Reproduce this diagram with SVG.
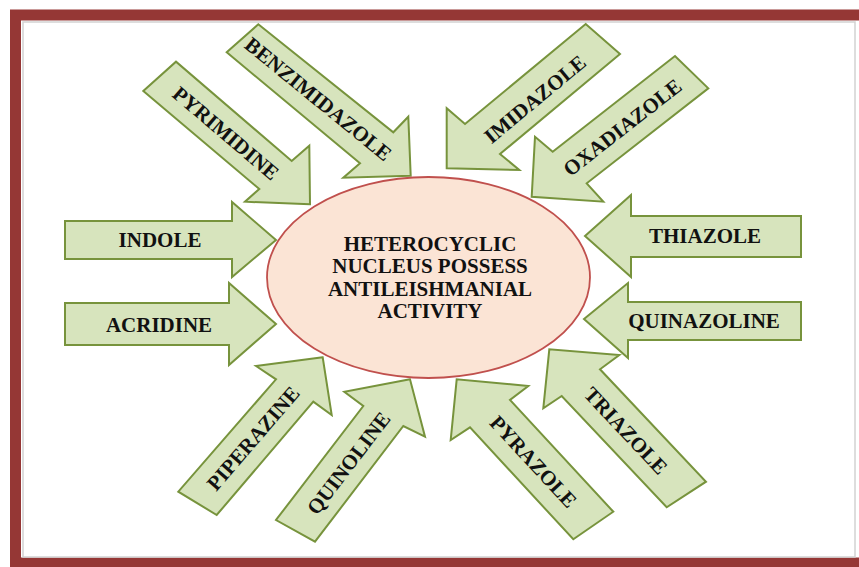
<svg xmlns="http://www.w3.org/2000/svg" width="859" height="567" viewBox="0 0 859 567">
  <style>
    .arrow { fill: #D7E4BD; stroke: #77933C; stroke-width: 2; stroke-linejoin: miter; }
    .lbl { font-family: "Liberation Serif", "Times New Roman", serif; font-weight: bold; font-size: 21px; fill: #111; text-anchor: middle; }
  </style>
  <rect x="0" y="0" width="859" height="567" fill="#ffffff"/>
  <rect id="frame" x="15.5" y="15" width="870" height="548" fill="none" stroke="#953735" stroke-width="11"/>
  <rect id="panel" x="23" y="22" width="832" height="535" fill="#ffffff" stroke="#d2d2d2" stroke-width="1.5"/>

  <g id="connectors">
    <g id="arrow-indole">
      <polygon class="arrow" points="276,240 232,202 232,221 65,221 65,259 232,259 232,277"/>
      <text class="lbl" x="160" y="247">INDOLE</text>
    </g>
    <g id="arrow-acridine">
      <polygon class="arrow" points="276,324 229,283 229,303 65,303 65,345 229,345 229,365"/>
      <text class="lbl" x="159" y="332">ACRIDINE</text>
    </g>
    <g id="arrow-thiazole">
      <polygon class="arrow" points="585,236 631,195 631,216 801,216 801,257 631,257 631,277"/>
      <text class="lbl" x="705" y="243">THIAZOLE</text>
    </g>
    <g id="arrow-quinazoline">
      <polygon class="arrow" points="584,319 628,283 628,302 801,302 801,340 628,340 628,358"/>
      <text class="lbl" x="704" y="328">QUINAZOLINE</text>
    </g>
    <g id="arrow-pyrimidine">
      <polygon class="arrow" points="310,204.3 245,201.7 259.3,189 143.3,91 176,61.7 291.7,161 309.3,145.7"/>
      <text class="lbl" transform="translate(225.8,133.3) rotate(40.4)" x="0" y="7">PYRIMIDINE</text>
    </g>
    <g id="arrow-benzimidazole">
      <polygon class="arrow" points="410.7,175.7 343.3,177.7 360,163.3 226.7,52.3 258.3,24.3 393.3,132.3 408.3,116.7"/>
      <text class="lbl" transform="translate(318.3,99.2) rotate(39.2)" x="0" y="7">BENZIMIDAZOLE</text>
    </g>
    <g id="arrow-imidazole">
      <polygon class="arrow" points="446.7,168.3 446.7,108.3 465,124 585.7,24 620,54 500,154 519.3,170"/>
      <text class="lbl" transform="translate(535,99.2) rotate(-39.7)" x="0" y="7">IMIDAZOLE</text>
    </g>
    <g id="arrow-oxadiazole">
      <polygon class="arrow" points="531.7,196.7 535,136.7 552.7,151.7 675,56 708.3,88.3 586.7,183.3 603.3,201.7"/>
      <text class="lbl" transform="translate(622.5,127.5) rotate(-38)" x="0" y="7">OXADIAZOLE</text>
    </g>
    <g id="arrow-piperazine">
      <polygon class="arrow" points="322.7,357.3 256,366 276,379.3 178.3,491.7 216.7,515 313.3,401.7 331.7,415"/>
      <text class="lbl" transform="translate(253.3,438.3) rotate(-49.3)" x="0" y="7">PIPERAZINE</text>
    </g>
    <g id="arrow-quinoline">
      <polygon class="arrow" points="410,379.3 344.3,391.7 363.3,406 276,520 315,541.7 403.3,426 425,436.7"/>
      <text class="lbl" transform="translate(348.7,463.3) rotate(-52.6)" x="0" y="7">QUINOLINE</text>
    </g>
    <g id="arrow-pyrazole">
      <polygon class="arrow" points="456.7,379.3 450.7,440 470,427.3 573.3,539.3 613.3,511.7 510,400 528.3,386"/>
      <text class="lbl" transform="translate(533.3,461.7) rotate(47.2)" x="0" y="7">PYRAZOLE</text>
    </g>
    <g id="arrow-triazole">
      <polygon class="arrow" points="549.3,349.3 543.3,408.3 561.7,396 666.7,507.3 706,481.7 600,369.3 619.3,355"/>
      <text class="lbl" transform="translate(625.8,430.8) rotate(46.7)" x="0" y="7">TRIAZOLE</text>
    </g>
  </g>

  <g id="center-node">
    <ellipse cx="428.5" cy="277.5" rx="161.5" ry="100.5" fill="#FBE4D5" stroke="#C0504D" stroke-width="1.8"/>
    <text class="lbl" x="430" y="251">HETEROCYCLIC</text>
    <text class="lbl" x="430" y="273">NUCLEUS POSSESS</text>
    <text class="lbl" x="430" y="296">ANTILEISHMANIAL</text>
    <text class="lbl" x="430" y="318">ACTIVITY</text>
  </g>
</svg>
